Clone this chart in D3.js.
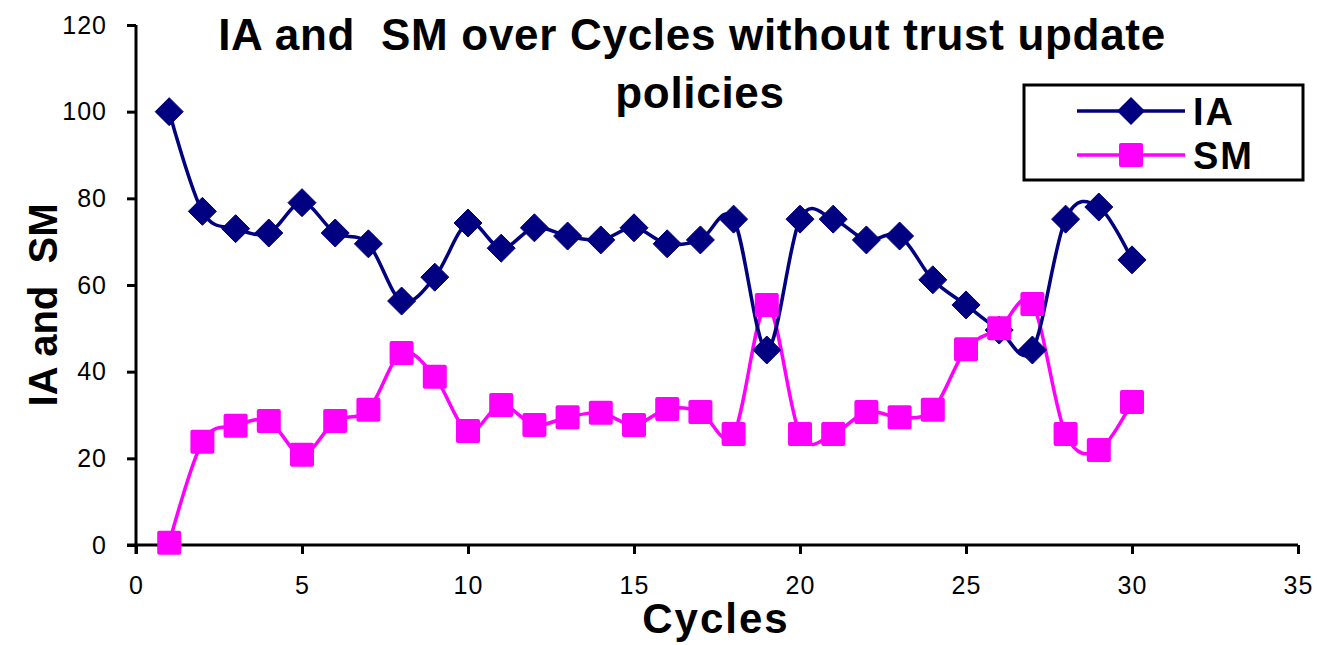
<!DOCTYPE html>
<html>
<head>
<meta charset="utf-8">
<script src="https://cdn.jsdelivr.net/npm/d3@7"></script>
<style>
  body { margin: 0; background: #fff; }
  text { font-family: "Liberation Sans", Arial, sans-serif; }
</style>
</head>
<body>
<svg id="chart"></svg>
<script>
'use strict'

const cycles = d3.range(1, 31)
const iaValues = [100, 77, 73, 72, 79, 72, 69.5, 56.3, 61.8, 74.3,
  68.5, 73.2, 71.3, 70.4, 73.2, 69.5, 70.4, 75.2, 45, 75.2,
  75.2, 70.4, 71.3, 61.2, 55.4, 49.6, 45, 75.2, 78, 65.8]
const smValues = [0.5, 23.8, 27.5, 28.6, 20.8, 28.6, 31.2, 44.3, 38.8, 26.3,
  32.3, 27.7, 29.5, 30.5, 27.7, 31.4, 30.7, 25.6, 55.4, 25.6,
  25.6, 30.7, 29.5, 31.2, 45.2, 50, 55.6, 25.6, 21.9, 33]
const xTicks = [0, 5, 10, 15, 20, 25, 30, 35]
const yTicks = [0, 20, 40, 60, 80, 100, 120]
const seriesNames = ['IA', 'SM']

const width = 1333
const height = 645
const plotLeft = 136, plotRight = 1298, plotTop = 25, plotBottom = 545

const svg = d3.select('#chart').attr('width', width).attr('height', height)

const x = d3.scaleLinear().domain([0, 35]).range([plotLeft, plotRight])
const y = d3.scaleLinear().domain([0, 120]).range([plotBottom, plotTop])

// axes
const xAxis = svg.append('g')
  .attr('transform', 'translate(0,' + plotBottom + ')')
  .call(d3.axisBottom(x).tickValues(xTicks).tickSize(9).tickPadding(22))
const yAxis = svg.append('g')
  .attr('transform', 'translate(' + plotLeft + ',0)')
  .call(d3.axisLeft(y).tickValues(yTicks).tickSize(9).tickPadding(20))

;[xAxis, yAxis].forEach((a) => {
  a.select('.domain').attr('stroke', '#000').attr('stroke-width', 3)
  a.selectAll('.tick line').attr('stroke', '#000').attr('stroke-width', 3)
  a.selectAll('.tick text').attr('fill', '#000')
    .style('font-size', '25px').style('letter-spacing', '1px')
})
xAxis.select('.domain').attr('d', 'M' + (plotLeft - 9) + ',0H' + plotRight)
yAxis.select('.domain').attr('d', 'M0,' + plotTop + 'V' + (plotBottom + 9))

// lines
const line = d3.line()
  .x((d, i) => x(cycles[i]))
  .y((d) => y(d))
  .curve(d3.curveCatmullRom.alpha(0))

const colors = { IA: '#000080', SM: '#ff00ff' }

svg.append('path').datum(smValues)
  .attr('d', line).attr('fill', 'none')
  .attr('stroke', colors.SM).attr('stroke-width', 3.5)
svg.append('path').datum(iaValues)
  .attr('d', line).attr('fill', 'none')
  .attr('stroke', colors.IA).attr('stroke-width', 3.5)

const diamond = (cx, cy, r) => 'M' + cx + ',' + (cy - r) + 'L' + (cx + r) + ',' + cy +
  'L' + cx + ',' + (cy + r) + 'L' + (cx - r) + ',' + cy + 'Z'

// IA markers (diamonds)
svg.append('g').selectAll('path')
  .data(iaValues)
  .enter().append('path')
  .attr('d', (d, i) => diamond(x(cycles[i]), y(d), 14))
  .attr('fill', colors.IA)
  .attr('stroke', colors.IA).attr('stroke-width', 1).attr('stroke-linejoin', 'round')

// SM markers (squares)
svg.append('g').selectAll('rect')
  .data(smValues)
  .enter().append('rect')
  .attr('x', (d, i) => x(cycles[i]) - 12)
  .attr('y', (d) => y(d) - 12)
  .attr('width', 24).attr('height', 24)
  .attr('rx', 2)
  .attr('fill', colors.SM)

// title
const title = svg.append('text')
  .attr('text-anchor', 'middle')
  .style('font-size', '44px').style('font-weight', 'bold').style('letter-spacing', '0.7px')
title.append('tspan').attr('x', 692).attr('y', 50)
  .style('white-space', 'pre')
  .text('IA and  SM over Cycles without trust update')
title.append('tspan').attr('x', 700).attr('y', 108).text('policies')

// axis titles
svg.append('text')
  .attr('x', 716).attr('y', 633)
  .attr('text-anchor', 'middle')
  .style('font-size', '42px').style('font-weight', 'bold').style('letter-spacing', '2px')
  .text('Cycles')
svg.append('text')
  .attr('transform', 'translate(57,305) rotate(-90)')
  .attr('text-anchor', 'middle')
  .style('font-size', '40px').style('font-weight', 'bold').style('white-space', 'pre')
  .text('IA and  SM')

// legend
const legend = svg.append('g')
legend.append('rect')
  .attr('x', 1024).attr('y', 85).attr('width', 279).attr('height', 95)
  .attr('fill', '#fff').attr('stroke', '#000').attr('stroke-width', 3)
seriesNames.forEach((name, i) => {
  const ly = 111 + i * 44
  legend.append('line')
    .attr('x1', 1077).attr('x2', 1185).attr('y1', ly).attr('y2', ly)
    .attr('stroke', colors[name]).attr('stroke-width', 3.5)
  if (name === 'IA') {
    legend.append('path').attr('d', diamond(1131, ly, 14)).attr('fill', colors.IA)
  } else {
    legend.append('rect').attr('x', 1119).attr('y', ly - 12)
      .attr('width', 24).attr('height', 24).attr('rx', 2).attr('fill', colors.SM)
  }
  legend.append('text')
    .attr('x', 1193).attr('y', ly + 14)
    .style('font-size', '38px').style('font-weight', 'bold')
    .style('letter-spacing', '2px')
    .text(name)
})
</script>
</body>
</html>
